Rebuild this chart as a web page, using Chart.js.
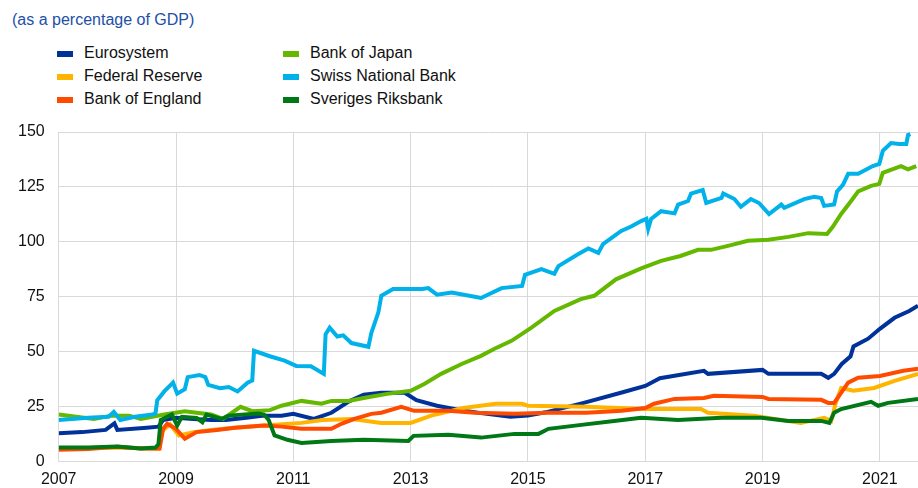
<!DOCTYPE html>
<html>
<head>
<meta charset="utf-8">
<script src="https://cdn.jsdelivr.net/npm/chart.js@4.4.1/dist/chart.umd.min.js"></script>
<style>
  body { margin: 0; background: #fff; font-family: "Liberation Sans", Arial, sans-serif; overflow: hidden; }
  #title { position: absolute; left: 12px; top: 11px; font-size: 16px; color: #2150a6; }
  #legend { position: absolute; left: 0; top: 0; }
  .item { position: absolute; font-size: 16px; color: #111; white-space: nowrap; }
  .swatch { position: absolute; width: 16px; height: 6px; }
  #wrap { position: absolute; left: 0; top: 0; width: 918px; height: 497px; }
</style>
</head>
<body>
<div id="title">(as a percentage of GDP)</div>
<div id="legend"></div>
<div id="wrap"><canvas id="myChart"></canvas></div>
<script>
// [year, % of GDP]
var eurosystem = [[2007.0,13],[2007.4,13.5],[2007.8,14.5],[2007.95,17.5],[2008.0,14.5],[2008.5,15.5],[2008.7,16],[2008.78,19],[2009.0,20],[2009.3,19.5],[2009.6,19],[2009.85,19],[2010.2,20],[2010.5,21],[2010.8,21],[2011.0,21.8],[2011.35,19.5],[2011.65,22.3],[2011.95,27.5],[2012.2,30.5],[2012.5,31.4],[2012.9,31.4],[2013.1,28],[2013.45,25.5],[2013.9,23.2],[2014.3,21.8],[2014.7,20.5],[2015.0,21],[2015.3,22.5],[2015.95,26.8],[2016.6,31.5],[2017.0,34.5],[2017.25,38],[2018.0,41.4],[2018.07,40],[2019.0,41.8],[2019.1,40],[2020.0,40],[2020.12,38.2],[2020.22,40],[2020.35,44.5],[2020.5,48],[2020.55,52.5],[2020.8,56],[2021.0,60.5],[2021.25,65.5],[2021.5,68.6],[2021.65,71]];
var federalReserve = [[2007.0,6],[2008.0,6.5],[2008.7,6],[2008.76,14],[2008.9,17],[2009.05,12],[2009.3,13.5],[2009.6,14.5],[2010.0,15.5],[2010.5,16.5],[2011.14,17.7],[2011.5,19],[2012.0,19.5],[2012.5,17.7],[2013.0,17.7],[2013.35,21],[2013.9,24.5],[2014.45,26.4],[2014.9,26.4],[2015.0,25.5],[2016.0,25],[2017.0,24],[2017.95,24],[2018.07,22.3],[2018.85,21],[2019.65,17.7],[2020.05,20],[2020.17,18.6],[2020.25,27],[2020.34,33.5],[2020.55,32.3],[2020.9,33.6],[2021.25,36.8],[2021.65,40]];
var bankOfEngland = [[2007.0,5.5],[2007.5,5.8],[2008.0,6.8],[2008.4,6],[2008.72,6],[2008.78,15],[2008.85,17.3],[2009.0,15],[2009.15,10.5],[2009.35,13.5],[2009.7,14.5],[2010.0,15.5],[2010.5,16.5],[2010.8,16],[2011.14,15],[2011.65,15],[2011.82,17.3],[2012.04,19.5],[2012.33,21.8],[2012.5,22.3],[2012.84,25],[2013.06,23.2],[2013.64,23.2],[2014.1,22.3],[2014.77,21.8],[2015.35,22.3],[2016.0,22.3],[2016.6,23.2],[2017.0,24.5],[2017.15,26.4],[2017.5,28.6],[2018.0,29],[2018.17,30],[2019.0,29.5],[2019.1,28.6],[2020.0,28.2],[2020.12,26.8],[2020.22,26.8],[2020.46,36],[2020.63,38.2],[2021.0,39],[2021.4,41.4],[2021.65,42.3]];
var bankOfJapan = [[2007.0,21.5],[2007.3,20.5],[2007.6,19.5],[2007.9,21],[2008.2,21],[2008.4,19.5],[2008.8,21.5],[2009.15,23],[2009.35,22.3],[2009.6,21.5],[2009.8,19.5],[2010.1,25],[2010.3,23],[2010.6,23.5],[2010.8,25.5],[2011.14,27.7],[2011.48,26.4],[2011.65,27.7],[2011.94,27.7],[2012.2,29],[2012.6,30.9],[2013.0,32.3],[2013.24,35.5],[2013.52,40],[2013.87,44.5],[2014.2,48.2],[2014.43,51.4],[2014.72,55],[2015.06,61],[2015.45,68.6],[2015.9,74],[2016.13,75.5],[2016.5,83],[2016.93,88],[2017.27,91.4],[2017.6,93.6],[2017.9,96.4],[2018.12,96.4],[2018.41,98.2],[2018.75,100.5],[2019.1,101],[2019.44,102.3],[2019.78,104],[2020.1,103.6],[2020.2,107],[2020.34,112.7],[2020.51,118.6],[2020.63,123],[2020.85,125.5],[2020.99,126.4],[2021.05,131.4],[2021.36,134.5],[2021.48,133],[2021.62,134.5]];
var swissNationalBank = [[2007.0,19],[2007.5,20],[2007.85,20.5],[2007.94,22.7],[2008.05,19],[2008.3,20.5],[2008.6,21.5],[2008.65,22],[2008.68,28],[2008.8,32],[2008.95,36],[2009.02,31],[2009.15,33],[2009.2,38.5],[2009.4,39.5],[2009.5,38.5],[2009.55,35],[2009.75,33.5],[2009.9,34],[2010.05,32],[2010.22,36],[2010.3,37],[2010.33,50.5],[2010.6,48],[2010.85,46],[2011.05,43.6],[2011.3,43.5],[2011.52,40],[2011.55,58],[2011.62,61],[2011.75,57],[2011.85,57.5],[2011.99,54],[2012.28,52.3],[2012.33,58.6],[2012.45,68],[2012.5,75.5],[2012.7,78.6],[2013.2,78.6],[2013.3,79],[2013.45,76],[2013.7,77],[2014.0,75.5],[2014.2,74.5],[2014.55,79],[2014.9,80],[2014.95,85],[2015.23,87.6],[2015.45,85.5],[2015.52,89],[2015.86,94.5],[2016.03,97],[2016.2,95],[2016.28,99],[2016.59,105],[2016.76,107],[2016.93,109.5],[2017.02,110.5],[2017.05,106],[2017.1,110.5],[2017.27,114],[2017.5,113],[2017.56,117],[2017.73,118.6],[2017.78,122],[2017.98,123.6],[2018.04,117.7],[2018.3,120],[2018.33,122],[2018.52,119.5],[2018.63,116],[2018.8,119.5],[2018.94,117.7],[2019.11,112.7],[2019.32,117],[2019.37,115.5],[2019.71,119.5],[2019.88,120.5],[2020.0,120],[2020.05,116.4],[2020.22,117],[2020.27,123],[2020.37,126],[2020.46,131],[2020.63,131],[2020.88,134.5],[2020.99,135.5],[2021.05,141.4],[2021.19,145],[2021.33,144.5],[2021.45,144.5],[2021.48,148.6],[2021.52,149]];
var riksbank = [[2007.0,6.5],[2007.5,6.5],[2008.0,7],[2008.4,6],[2008.65,6.5],[2008.7,8],[2008.74,19],[2008.93,21.5],[2009.02,16.5],[2009.1,20.5],[2009.35,20],[2009.45,18],[2009.52,21.5],[2009.78,19.5],[2009.9,21],[2010.4,22],[2010.5,21.5],[2010.58,19],[2010.68,12],[2010.9,10],[2011.14,8.6],[2011.65,9.5],[2012.2,10],[2012.96,9.5],[2013.05,11.8],[2013.64,12.3],[2014.2,11],[2014.77,12.7],[2015.18,12.7],[2015.35,15],[2015.91,16.8],[2016.47,18.6],[2016.93,20],[2017.56,19],[2018.3,20],[2018.98,20],[2019.44,18.6],[2020.0,18.6],[2020.14,17.7],[2020.22,22.3],[2020.34,24],[2020.85,27.3],[2020.97,25.5],[2021.14,26.8],[2021.65,28.6]];

var seriesNames = ['Eurosystem', 'Federal Reserve', 'Bank of England', 'Bank of Japan', 'Swiss National Bank', 'Sveriges Riksbank'];
var seriesColors = ['#003299', '#ffb400', '#ff4b00', '#65b800', '#00b1ea', '#007816'];
var seriesData = [eurosystem, federalReserve, bankOfEngland, bankOfJapan, swissNationalBank, riksbank];
var xTicks = [2007, 2009, 2011, 2013, 2015, 2017, 2019, 2021];
var yTicks = [0, 25, 50, 75, 100, 125, 150];

var font = "'Liberation Sans', Arial, sans-serif";

var datasets = seriesData.map(function (s, i) {
    return {
        label: seriesNames[i],
        data: s.map(function (p) { return { x: p[0], y: p[1] }; }),
        borderColor: seriesColors[i],
        backgroundColor: seriesColors[i],
        borderWidth: 4,
        pointRadius: 0,
        tension: 0,
        order: seriesData.length - i   // later series drawn on top
    };
});

var ctx = document.getElementById('myChart').getContext('2d');
var chart = new Chart(ctx, {
    type: 'line',
    data: { datasets: datasets },
    options: {
        responsive: true,
        maintainAspectRatio: false,
        animation: false,
        layout: { padding: { top: 132, left: 4, right: 0, bottom: 0 } },
        plugins: { legend: { display: false }, tooltip: { enabled: false } },
        scales: {
            x: {
                type: 'linear',
                min: 2007,
                max: 2021.65,
                afterBuildTicks: function (axis) {
                    axis.ticks = xTicks.map(function (v) { return { value: v }; });
                },
                ticks: {
                    callback: function (v) { return String(v); },
                    color: '#111',
                    font: { family: font, size: 16 },
                    padding: 8,
                    maxRotation: 0
                },
                grid: { color: '#d9d9d9', lineWidth: 1, drawTicks: false },
                border: { color: '#d9d9d9' }
            },
            y: {
                min: 0,
                max: 150,
                afterBuildTicks: function (axis) {
                    axis.ticks = yTicks.map(function (v) { return { value: v }; });
                },
                ticks: {
                    color: '#111',
                    font: { family: font, size: 16 },
                    padding: 14
                },
                grid: { color: '#d9d9d9', lineWidth: 1, drawTicks: false },
                border: { color: '#d9d9d9' }
            }
        }
    }
});

// two-column legend built from the chart's datasets
var legend = document.getElementById('legend');
chart.data.datasets.forEach(function (ds, i) {
    var col = Math.floor(i / 3), row = i % 3;
    var left = 57 + col * 226, top = 54 + row * 23;
    var sw = document.createElement('div');
    sw.className = 'swatch';
    sw.style.left = left + 'px';
    sw.style.top = (top - 3) + 'px';
    sw.style.background = ds.borderColor;
    legend.appendChild(sw);
    var tx = document.createElement('div');
    tx.className = 'item';
    tx.style.left = (left + 27) + 'px';
    tx.style.top = (top - 10) + 'px';
    tx.textContent = ds.label;
    legend.appendChild(tx);
});
</script>
</body>
</html>
